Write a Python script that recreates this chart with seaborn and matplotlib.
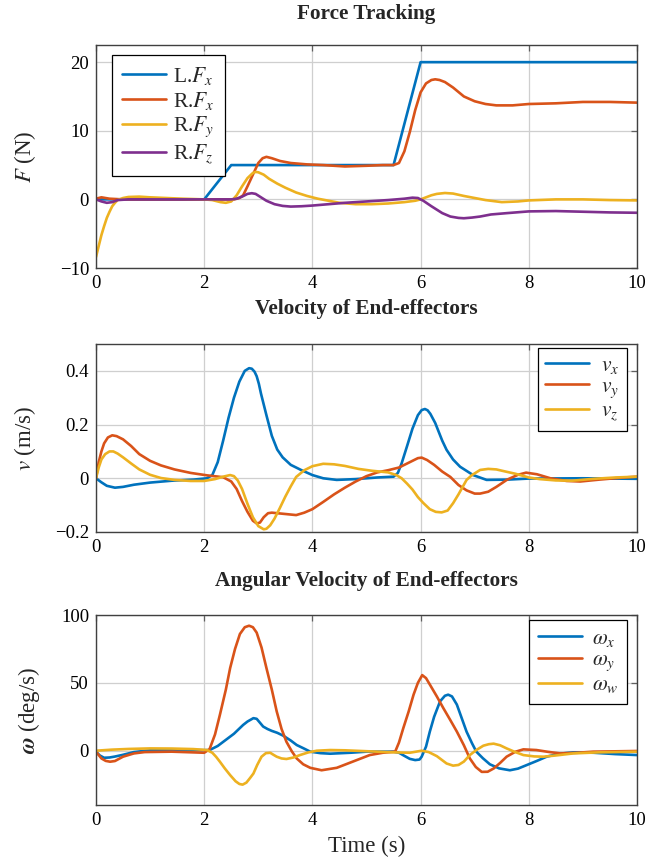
import matplotlib
matplotlib.use("Agg")
import matplotlib.pyplot as plt
import pandas as pd
import seaborn as sns

# ---------------- Force tracking, F (N) ----------------
t_l_fx = [0, 2, 2.5, 5.5, 6, 10]
l_fx = [0, 0, 5, 5, 20, 20]

t_r_fx = [0, 0.1, 0.25, 0.5, 1, 2, 2.55, 2.65, 2.72, 2.8, 2.9, 3.0, 3.08, 3.15, 3.25,
          3.4, 3.6, 3.9, 4.2, 4.6, 5.0, 5.3, 5.5, 5.6, 5.7, 5.8, 5.9, 6.0, 6.1, 6.2,
          6.27, 6.35, 6.45, 6.6, 6.8, 7.0, 7.2, 7.4, 7.7, 8.0, 8.5, 9.0, 9.5, 10]
r_fx = [0.1, 0.3, 0.1, 0, 0, 0, 0, 0.2, 0.6, 1.9, 3.6, 5.3, 6.0, 6.2, 6.0,
        5.6, 5.3, 5.1, 5.0, 4.8, 4.9, 5.0, 5.0, 5.3, 7.0, 9.8, 13.0, 15.6, 16.9, 17.4,
        17.5, 17.4, 17.1, 16.3, 15.0, 14.3, 13.9, 13.7, 13.7, 13.9, 14.0, 14.2, 14.2, 14.1]

t_r_fy = [0, 0.05, 0.1, 0.15, 0.2, 0.25, 0.3, 0.35, 0.4, 0.5, 0.6, 0.8, 1.0, 1.3, 1.6,
          2.0, 2.15, 2.3, 2.4, 2.5, 2.6, 2.7, 2.8, 2.9, 2.95, 3.0, 3.1, 3.2, 3.35, 3.5,
          3.7, 3.9, 4.1, 4.3, 4.5, 4.8, 5.1, 5.4, 5.7, 5.9, 6.0, 6.1, 6.2, 6.3, 6.45,
          6.6, 6.8, 7.0, 7.2, 7.5, 7.8, 8.0, 8.5, 9.0, 9.5, 10]
r_fy = [-8.4, -6.8, -5.2, -3.9, -2.7, -1.8, -1.0, -0.5, -0.1, 0.2, 0.35, 0.4, 0.3, 0.2, 0.1,
        0.0, -0.1, -0.4, -0.5, -0.3, 0.6, 1.9, 3.1, 3.85, 4.0, 3.95, 3.6, 3.0, 2.3, 1.7,
        1.0, 0.5, 0.1, -0.2, -0.5, -0.7, -0.7, -0.6, -0.4, -0.2, 0.0, 0.3, 0.6, 0.8, 0.93,
        0.85, 0.5, 0.2, -0.1, -0.4, -0.3, -0.15, 0.0, 0.0, -0.1, -0.15]

t_r_fz = [0, 0.1, 0.2, 0.3, 0.4, 0.6, 1.0, 2.0, 2.5, 2.6, 2.7, 2.8, 2.88, 2.95, 3.05,
          3.15, 3.3, 3.45, 3.6, 3.8, 4.0, 4.3, 4.6, 5.0, 5.4, 5.7, 5.85, 5.95, 6.05,
          6.2, 6.4, 6.55, 6.7, 6.8, 6.95, 7.1, 7.3, 7.6, 8.0, 8.5, 9.0, 9.5, 10]
r_fz = [0, -0.3, -0.5, -0.4, -0.1, 0, 0, 0, 0, 0.1, 0.4, 0.8, 0.9, 0.8, 0.3,
        -0.2, -0.7, -0.95, -1.05, -1.0, -0.9, -0.7, -0.5, -0.3, -0.1, 0.1, 0.25, 0.2, -0.2,
        -1.0, -2.0, -2.5, -2.7, -2.75, -2.65, -2.5, -2.2, -2.0, -1.75, -1.7, -1.8, -1.9, -1.95]

# ---------------- End-effector velocity, v (m/s) ----------------
t_vx = [0, 0.1, 0.2, 0.35, 0.5, 0.7, 1.0, 1.4, 1.8, 2.05, 2.15, 2.25, 2.35, 2.45, 2.55,
        2.65, 2.75, 2.83, 2.88, 2.93, 2.97, 3.01, 3.05, 3.15, 3.25, 3.35, 3.45, 3.6, 3.8,
        4.0, 4.2, 4.45, 4.8, 5.2, 5.5, 5.58, 5.65, 5.75, 5.85, 5.95, 6.02, 6.08, 6.13,
        6.18, 6.27, 6.4, 6.48, 6.6, 6.73, 6.97, 7.22, 7.6, 8.0, 9.0, 10]
vx = [0, -0.015, -0.028, -0.035, -0.032, -0.024, -0.016, -0.009, -0.005, 0, 0.012, 0.06,
      0.14, 0.225, 0.30, 0.36, 0.40, 0.41, 0.408, 0.397, 0.38, 0.352, 0.315, 0.235,
      0.158, 0.107, 0.078, 0.05, 0.03, 0.012, 0.0, -0.006, -0.003, 0.003, 0.006, 0.02,
      0.056, 0.12, 0.185, 0.235, 0.254, 0.258, 0.253, 0.24, 0.206, 0.14, 0.106, 0.07,
      0.043, 0.012, -0.006, -0.005, -0.001, 0.0, -0.002]

t_vy = [0, 0.05, 0.1, 0.15, 0.22, 0.3, 0.38, 0.5, 0.65, 0.8, 1.0, 1.2, 1.45, 1.75, 2.05,
        2.35, 2.5, 2.6, 2.7, 2.8, 2.9, 2.97, 3.03, 3.1, 3.18, 3.25, 3.35, 3.5, 3.7, 3.85,
        4.0, 4.2, 4.4, 4.6, 4.8, 5.0, 5.2, 5.4, 5.6, 5.8, 5.95, 6.02, 6.12, 6.25, 6.4,
        6.55, 6.7, 6.85, 7.0, 7.1, 7.25, 7.4, 7.6, 7.8, 7.95, 8.15, 8.4, 8.7, 8.95, 9.3,
        9.7, 10]
vy = [0, 0.06, 0.1, 0.13, 0.152, 0.16, 0.157, 0.145, 0.12, 0.09, 0.065, 0.048, 0.033,
      0.02, 0.011, 0.004, -0.012, -0.04, -0.085, -0.125, -0.158, -0.168, -0.165, -0.145,
      -0.13, -0.128, -0.13, -0.133, -0.137, -0.128, -0.115, -0.088, -0.06, -0.035, -0.012,
      0.008, 0.022, 0.03, 0.04, 0.06, 0.075, 0.077, 0.068, 0.05, 0.025, 0.005, -0.025,
      -0.045, -0.057, -0.057, -0.05, -0.032, -0.005, 0.013, 0.021, 0.015, 0.0, -0.01,
      -0.012, -0.005, 0.002, 0.006]

t_vz = [0, 0.05, 0.1, 0.17, 0.25, 0.32, 0.4, 0.5, 0.65, 0.8, 1.0, 1.2, 1.45, 1.75, 2.0,
        2.2, 2.35, 2.48, 2.55, 2.62, 2.7, 2.8, 2.9, 3.0, 3.1, 3.15, 3.22, 3.3, 3.4, 3.5,
        3.6, 3.7, 3.85, 4.0, 4.2, 4.4, 4.6, 4.85, 5.1, 5.4, 5.55, 5.65, 5.75, 5.85, 5.95,
        6.05, 6.17, 6.28, 6.39, 6.5, 6.6, 6.7, 6.85, 6.95, 7.1, 7.25, 7.4, 7.55, 7.75,
        8.0, 8.2, 8.5, 8.8, 9.2, 9.6, 10]
vz = [0, 0.04, 0.07, 0.09, 0.1, 0.1, 0.092, 0.078, 0.055, 0.033, 0.013, 0.001, -0.006,
      -0.01, -0.01, -0.003, 0.006, 0.012, 0.008, -0.008, -0.04, -0.095, -0.145, -0.178,
      -0.19, -0.188, -0.175, -0.15, -0.11, -0.068, -0.03, 0.005, 0.03, 0.045, 0.054,
      0.052, 0.046, 0.035, 0.028, 0.022, 0.012, 0.0, -0.02, -0.042, -0.07, -0.092,
      -0.115, -0.125, -0.127, -0.12, -0.093, -0.06, -0.006, 0.012, 0.031, 0.035, 0.033,
      0.026, 0.017, 0.003, -0.003, -0.008, -0.009, -0.002, 0.003, 0.006]

# ---------------- End-effector angular velocity (deg/s) ----------------
t_wx = [0, 0.07, 0.15, 0.25, 0.35, 0.5, 0.7, 1.0, 1.5, 2.0, 2.1, 2.25, 2.4, 2.55, 2.72,
        2.8, 2.91, 2.97, 3.09, 3.17, 3.25, 3.35, 3.46, 3.6, 3.71, 3.85, 3.96, 4.15, 4.33,
        4.7, 5.0, 5.5, 5.6, 5.7, 5.8, 5.9, 5.98, 6.02, 6.1, 6.17, 6.25, 6.36, 6.45, 6.51,
        6.58, 6.67, 6.76, 6.85, 6.95, 7.03, 7.15, 7.28, 7.45, 7.65, 7.8, 7.96, 8.15, 8.33,
        8.55, 8.82, 9.2, 9.6, 10]
wx = [-0.7, -3.5, -5.2, -5.0, -4.3, -3.0, -1.0, 0.3, 0.6, 0.4, 0.5, 3.5, 8.0, 12.5, 19.0,
      21.5, 24.0, 23.5, 17.8, 16.0, 14.6, 13.2, 11.1, 7.5, 4.2, 1.5, -0.7, -1.8, -2.2,
      -1.5, -0.7, -0.7, -1.5, -3.8, -6.0, -6.9, -6.5, -4.4, 3.0, 14.0, 25.0, 36.4, 40.5,
      41.3, 40.0, 34.0, 24.0, 14.0, 5.5, -0.7, -5.5, -10.0, -13.0, -14.4, -13.2, -10.6,
      -7.5, -4.4, -2.3, -1.2, -1.5, -2.5, -3.2]

t_wy = [0, 0.1, 0.18, 0.26, 0.35, 0.5, 0.7, 0.9, 1.4, 2.0, 2.1, 2.2, 2.29, 2.4, 2.48,
        2.57, 2.66, 2.75, 2.83, 2.9, 2.97, 3.06, 3.15, 3.25, 3.34, 3.43, 3.52, 3.62, 3.71,
        3.83, 3.96, 4.17, 4.45, 4.82, 5.06, 5.3, 5.53, 5.6, 5.68, 5.78, 5.87, 5.95, 6.03,
        6.1, 6.17, 6.3, 6.42, 6.55, 6.67, 6.8, 6.91, 7.02, 7.13, 7.24, 7.35, 7.47, 7.59,
        7.75, 7.9, 8.14, 8.35, 8.58, 8.9, 9.19, 10]
wy = [-0.7, -5.7, -7.5, -8.1, -7.6, -4.4, -2.0, -1.0, -0.7, -1.5, 1.2, 12.0, 26.4, 45.0,
      61.0, 75.0, 86.0, 91.0, 92.1, 91.0, 87.0, 76.0, 61.0, 45.0, 29.0, 16.0, 6.6, -0.5,
      -5.7, -10.0, -12.6, -14.4, -12.6, -6.9, -3.2, -1.5, -0.7, 6.0, 16.6, 29.0, 41.3,
      50.0, 55.7, 53.5, 48.8, 40.0, 31.4, 22.5, 14.1, 4.0, -5.7, -12.0, -15.6, -15.5,
      -13.1, -9.0, -4.4, -0.8, 1.0, 0.5, -0.8, -2.0, -1.5, -0.7, -0.2]

t_ww = [0, 0.3, 0.6, 1.0, 1.4, 1.8, 2.05, 2.15, 2.22, 2.29, 2.38, 2.48, 2.58, 2.65, 2.71,
        2.78, 2.85, 2.91, 2.98, 3.06, 3.14, 3.22, 3.28, 3.34, 3.43, 3.52, 3.65, 3.77,
        3.92, 4.08, 4.33, 4.6, 4.9, 5.2, 5.5, 5.8, 6.02, 6.15, 6.3, 6.48, 6.6, 6.7, 6.8,
        6.91, 7.03, 7.16, 7.26, 7.35, 7.47, 7.59, 7.75, 7.9, 8.1, 8.27, 8.5, 8.82, 9.3, 10]
ww = [0, 0.8, 1.3, 1.7, 1.6, 1.2, 0.5, -1.5, -4.5, -8.1, -13.0, -18.0, -22.5, -24.5, -25.0,
      -23.5, -20.0, -16.8, -10.5, -4.4, -1.8, -1.5, -3.0, -4.4, -5.7, -6.1, -5.0, -3.2,
      -1.3, 0.0, 0.5, 0.3, -0.2, -0.7, -1.2, -1.5, 0.0, -1.0, -4.0, -9.4, -11.0, -10.5,
      -8.0, -3.2, 0.5, 3.7, 4.8, 5.2, 4.0, 1.7, -1.0, -3.2, -4.2, -4.4, -3.5, -2.0, -1.2,
      -0.7]

# ---------------- labels and ticks ----------------
force_names = [r"L.$F_x$", r"R.$F_x$", r"R.$F_y$", r"R.$F_z$"]
vel_names = [r"$v_x$", r"$v_y$", r"$v_z$"]
ang_names = [r"$\omega_x$", r"$\omega_y$", r"$\omega_w$"]
line_colors = ["#0072BD", "#D95319", "#EDB120", "#7E2F8E"]

x_ticks = [0, 2, 4, 6, 8, 10]
x_ticklabels = ["0", "2", "4", "6", "8", "10"]
f_ticks = [-10, 0, 10, 20]
f_ticklabels = ["\u221210", "0", "10", "20"]
v_ticks = [-0.2, 0, 0.2, 0.4]
v_ticklabels = ["\u22120.2", "0", "0.2", "0.4"]
w_ticks = [0, 50, 100]
w_ticklabels = ["0", "50", "100"]

panel_titles = ["Force Tracking", "Velocity of End-effectors",
                "Angular Velocity of End-effectors"]


def long_frame(names, times, values):
    parts = []
    for name, t, y in zip(names, times, values):
        parts.append(pd.DataFrame({"t": t, "y": y, "series": name}))
    return pd.concat(parts, ignore_index=True)


force_df = long_frame(force_names, [t_l_fx, t_r_fx, t_r_fy, t_r_fz],
                      [l_fx, r_fx, r_fy, r_fz])
vel_df = long_frame(vel_names, [t_vx, t_vy, t_vz], [vx, vy, vz])
ang_df = long_frame(ang_names, [t_wx, t_wy, t_ww], [wx, wy, ww])

sns.set_theme(style="white")
plt.rcParams["font.family"] = ["Liberation Serif", "DejaVu Serif"]
plt.rcParams["mathtext.fontset"] = "stix"
plt.rcParams["axes.unicode_minus"] = True

fig = plt.figure(figsize=(6.5, 8.66), dpi=100)
W, H = 650.0, 866.0
left, right = 96, 637
boxes = [(45, 268), (344, 532), (615, 805)]
axes = [fig.add_axes([left / W, 1 - b / H, (right - left) / W, (b - t) / H])
        for t, b in boxes]

# legend settings per panel: location, anchor, border pad, label spacing, text pad
panels = [
    (force_df, force_names, (-10, 22.5), f_ticks, f_ticklabels, r"$F$ (N)",
     "upper left", (16 / 541, 1 - 10 / 223), -0.108, 0.45, 0.14, 0.35),
    (vel_df, vel_names, (-0.2, 0.5), v_ticks, v_ticklabels, r"$v$ (m/s)",
     "upper right", (1 - 10 / 541, 1 - 4 / 188), -0.108, 0.35, 0.06, 0.55),
    (ang_df, ang_names, (-40, 100), w_ticks, w_ticklabels,
     r"$\mathbfit{\omega}$ (deg/s)",
     "upper right", (1 - 10 / 541, 1 - 5 / 190), -0.100, 0.4, 0.08, 0.45),
]

for ax, (df, names, ylim, yt, ytl, ylab, loc, anchor, lx, bpad, lspace, tpad) in zip(axes, panels):
    pal = dict(zip(names, line_colors[:len(names)]))
    sns.lineplot(data=df, x="t", y="y", hue="series", hue_order=names,
                 palette=pal, estimator=None, sort=False, linewidth=1.9, ax=ax)
    ax.set_xlim(0, 10)
    ax.set_ylim(*ylim)
    ax.set_xticks(x_ticks)
    ax.set_xticklabels(x_ticklabels)
    ax.set_yticks(yt)
    ax.set_yticklabels(ytl)
    ax.grid(True, color="#cfcfcf", linewidth=0.9)
    ax.set_axisbelow(True)
    ax.tick_params(direction="in", length=4, width=0.9, color="#606060",
                   labelsize=13.5, top=True, right=True, pad=5, labelcolor="black")
    for sp in ax.spines.values():
        sp.set_color("#404040")
        sp.set_linewidth(1.0)
    ax.set_xlabel("")
    ax.set_ylabel(ylab, fontsize=16.5)
    ax.yaxis.set_label_coords(lx, 0.5)
    handles, labels = ax.get_legend_handles_labels()
    leg = ax.legend(handles, labels, loc=loc, bbox_to_anchor=anchor,
                    borderaxespad=0, fontsize=15.5, frameon=True, fancybox=False,
                    framealpha=1, edgecolor="black", handlelength=2.05,
                    handletextpad=tpad, labelspacing=lspace, borderpad=bpad)
    leg.get_frame().set_linewidth(0.9)

axes[2].set_xlabel("Time (s)", fontsize=16.5)
axes[2].xaxis.set_label_coords(0.5, -0.165)

title_y = [14, 309, 581]
for txt, yp in zip(panel_titles, title_y):
    fig.text((left + right) / 2 / W, 1 - yp / H, txt, ha="center", va="center",
             fontsize=15.3, fontweight="bold")

fig.savefig("out.png", dpi=100)
